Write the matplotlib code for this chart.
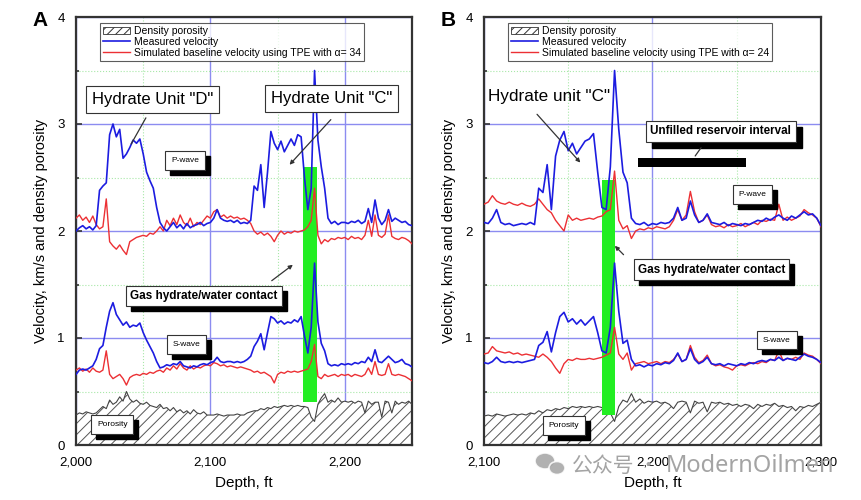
import numpy as np
import matplotlib
matplotlib.use("Agg")
import matplotlib.pyplot as plt
import matplotlib.ticker as mticker
from matplotlib.patches import Patch, Rectangle, Ellipse
from matplotlib.lines import Line2D
from matplotlib.transforms import offset_copy

plt.rcParams['font.family'] = ['Liberation Sans', 'DejaVu Sans']
plt.rcParams['hatch.linewidth'] = 0.7

# ---------------- panel A data (2.5 ft sampling) ----------------
depth_a = np.arange(2000, 2250.1, 2.5)
vp_meas_a = [2.00, 2.03, 2.05, 2.02, 2.04, 2.01, 2.05, 2.38, 2.42, 2.45,
             2.90, 3.00, 2.88, 2.95, 2.68, 2.72, 2.78, 2.85, 2.82, 2.86,
             2.72, 2.55, 2.47, 2.40, 2.22, 2.08, 2.03, 2.00, 2.04, 2.08,
             2.03, 2.06, 2.02, 2.07, 2.03, 2.05, 2.06, 2.08, 2.05, 2.07,
             2.08, 2.12, 2.20, 2.12, 2.10, 2.09, 2.10, 2.08, 2.10, 2.07,
             2.08, 2.07, 2.10, 2.42, 2.38, 2.62, 2.22, 2.55, 2.93, 2.82,
             2.76, 2.84, 2.74, 2.80, 2.86, 2.80, 2.90, 2.88, 2.50, 2.20,
             2.40, 3.50, 2.85, 2.60, 2.40, 2.12, 2.07, 2.09, 2.06, 2.08,
             2.08, 2.07, 2.09, 2.08, 2.10, 2.07, 2.09, 2.21, 2.08, 2.29,
             2.12, 2.06, 2.10, 2.20, 2.09, 2.12, 2.10, 2.08, 2.09, 2.06,
             2.05]
vp_sim_a = [2.12, 2.15, 2.10, 2.13, 2.08, 2.14, 2.06, 2.02, 2.04, 2.30,
            1.90, 1.86, 1.83, 1.87, 1.82, 1.78, 1.90, 1.92, 1.94, 1.95,
            1.96, 1.95, 1.98, 1.97, 2.00, 2.04, 2.00, 2.10, 2.05, 2.12,
            2.06, 2.15, 2.08, 2.05, 2.12, 2.04, 2.08, 2.06, 2.10, 2.14,
            2.12, 2.18, 2.20, 2.13, 2.15, 2.12, 2.14, 2.12, 2.13, 2.11,
            2.12, 2.10, 2.07, 2.00, 1.97, 1.99, 1.96, 1.98, 1.95, 1.90,
            1.96, 2.00, 1.97, 1.99, 1.98, 2.00, 1.99, 2.00, 2.01, 2.04,
            2.10, 2.40, 1.96, 1.88, 1.92, 1.90, 1.93, 1.92, 1.94, 1.93,
            1.94, 1.92, 1.95, 1.93, 1.94, 1.92, 1.96, 2.10, 1.95, 2.15,
            1.96, 1.94, 1.97, 2.15, 1.95, 1.93, 1.92, 1.94, 1.93, 1.91,
            1.88]
vs_meas_a = [0.66, 0.70, 0.71, 0.70, 0.72, 0.74, 0.80, 0.90, 0.93, 1.10,
             1.25, 1.33, 1.22, 1.17, 1.12, 1.15, 1.10, 1.12, 1.11, 1.14,
             1.05, 0.98, 0.92, 0.86, 0.78, 0.72, 0.73, 0.75, 0.74, 0.76,
             0.75, 0.78, 0.74, 0.73, 0.72, 0.74, 0.73, 0.75, 0.76, 0.75,
             0.77, 0.78, 0.82, 0.78, 0.77, 0.78, 0.78, 0.77, 0.78, 0.77,
             0.78, 0.80, 0.83, 0.92, 0.97, 1.04, 0.89, 1.05, 1.20, 1.18,
             1.14, 1.16, 1.13, 1.15, 1.14, 1.17, 1.15, 1.20, 1.02, 0.86,
             1.10, 1.70, 1.15, 0.95, 0.88, 0.76, 0.74, 0.75, 0.74, 0.76,
             0.75, 0.76, 0.75, 0.77, 0.76, 0.78, 0.77, 0.82, 0.78, 0.89,
             0.78, 0.77, 0.80, 0.83, 0.80, 0.77, 0.78, 0.80, 0.76, 0.75,
             0.73]
vs_sim_a = [0.70, 0.72, 0.69, 0.71, 0.68, 0.72, 0.69, 0.68, 0.70, 0.88,
            0.66, 0.62, 0.64, 0.66, 0.62, 0.56, 0.63, 0.65, 0.66, 0.65,
            0.67, 0.66, 0.68, 0.67, 0.69, 0.70, 0.68, 0.72, 0.70, 0.74,
            0.71, 0.76, 0.72, 0.70, 0.74, 0.71, 0.73, 0.72, 0.74, 0.75,
            0.74, 0.77, 0.76, 0.74, 0.75, 0.73, 0.74, 0.73, 0.72, 0.73,
            0.72, 0.71, 0.70, 0.68, 0.69, 0.67, 0.68, 0.66, 0.64, 0.58,
            0.66, 0.68, 0.67, 0.69, 0.68, 0.69, 0.68, 0.69, 0.70, 0.71,
            0.78, 0.94, 0.64, 0.62, 0.66, 0.64, 0.65, 0.66, 0.64, 0.66,
            0.65, 0.66, 0.64, 0.66, 0.65, 0.64, 0.66, 0.72, 0.66, 0.78,
            0.66, 0.65, 0.66, 0.76, 0.66, 0.65, 0.66, 0.65, 0.64, 0.62,
            0.60]
por_a = [0.28, 0.30, 0.29, 0.31, 0.30, 0.29, 0.30, 0.33, 0.36, 0.34,
         0.42, 0.38, 0.40, 0.45, 0.41, 0.50, 0.43, 0.40, 0.42, 0.39,
         0.38, 0.40, 0.37, 0.36, 0.35, 0.38, 0.34, 0.35, 0.32, 0.35,
         0.31, 0.33, 0.30, 0.32, 0.29, 0.33, 0.30, 0.29, 0.31, 0.28,
         0.28, 0.28, 0.29, 0.28, 0.27, 0.28, 0.28, 0.28, 0.29, 0.28,
         0.28, 0.30, 0.31, 0.32, 0.32, 0.34, 0.33, 0.35, 0.34, 0.36,
         0.35, 0.36, 0.37, 0.36, 0.37, 0.36, 0.37, 0.36, 0.36, 0.35,
         0.26, 0.22, 0.38, 0.44, 0.48, 0.40, 0.42, 0.40, 0.44, 0.40,
         0.41, 0.40, 0.41, 0.39, 0.41, 0.40, 0.30, 0.41, 0.38, 0.40,
         0.40, 0.26, 0.41, 0.40, 0.30, 0.41, 0.38, 0.40, 0.39, 0.41,
         0.38]

# ---------------- panel B data (2.5 ft sampling) ----------------
depth_b = np.arange(2100, 2300.1, 2.5)
vp_meas_b = [2.08, 2.07, 2.12, 2.20, 2.08, 2.06, 2.07, 2.05, 2.06, 2.07,
             2.06, 2.08, 2.06, 2.40, 2.36, 2.62, 2.20, 2.70, 2.85, 2.93,
             2.75, 2.82, 2.72, 2.78, 2.84, 2.86, 2.91, 2.55, 2.22, 2.20,
             2.60, 3.50, 2.95, 2.55, 2.45, 2.12, 2.07, 2.06, 2.08, 2.05,
             2.07, 2.06, 2.08, 2.07, 2.08, 2.12, 2.22, 2.10, 2.12, 2.28,
             2.15, 2.08, 2.10, 2.16, 2.08, 2.07, 2.06, 2.08, 2.05, 2.07,
             2.06, 2.05, 2.07, 2.06, 2.08, 2.10, 2.09, 2.12, 2.10, 2.13,
             2.15, 2.12, 2.10, 2.14, 2.12, 2.15, 2.18, 2.15, 2.16, 2.12,
             2.05]
vp_sim_b = [2.25, 2.27, 2.33, 2.28, 2.26, 2.25, 2.27, 2.25, 2.24, 2.26,
            2.24, 2.23, 2.25, 2.30, 2.25, 2.20, 2.17, 2.10, 2.05, 2.00,
            2.15, 2.10, 2.12, 2.10, 2.11, 2.12, 2.11, 2.13, 2.14, 2.18,
            2.20, 2.56, 2.10, 2.02, 2.05, 1.93, 2.00, 2.02, 2.01, 2.03,
            2.02, 2.04, 2.03, 2.02, 2.04, 2.10, 2.20, 2.10, 2.15, 2.37,
            2.18, 2.08, 2.10, 2.15, 2.06, 2.04, 2.05, 2.03, 2.06, 2.04,
            2.05, 2.07, 2.04, 2.06, 2.08, 2.06, 2.10, 2.09, 2.11, 2.10,
            2.25, 2.10, 2.13, 2.10, 2.12, 2.14, 2.20, 2.17, 2.15, 2.12,
            2.04]
vs_meas_b = [0.77, 0.76, 0.78, 0.82, 0.78, 0.77, 0.78, 0.77, 0.78, 0.77,
             0.78, 0.79, 0.80, 0.93, 0.96, 1.06, 0.87, 1.05, 1.20, 1.24,
             1.15, 1.18, 1.13, 1.17, 1.12, 1.16, 1.20, 1.05, 0.88, 0.86,
             1.10, 1.70, 1.25, 0.95, 0.98, 0.80, 0.74, 0.75, 0.73, 0.75,
             0.74, 0.76, 0.75, 0.77, 0.76, 0.79, 0.86, 0.78, 0.80, 0.90,
             0.80, 0.76, 0.78, 0.82, 0.76, 0.75, 0.76, 0.74, 0.76, 0.75,
             0.74, 0.76, 0.75, 0.77, 0.76, 0.78, 0.79, 0.78, 0.80, 0.79,
             0.82, 0.79, 0.81, 0.80, 0.79, 0.82, 0.85, 0.83, 0.82, 0.80,
             0.77]
vs_sim_b = [0.85, 0.86, 0.92, 0.88, 0.87, 0.86, 0.87, 0.85, 0.86, 0.84,
            0.85, 0.84, 0.83, 0.82, 0.85, 0.82, 0.78, 0.72, 0.67, 0.76,
            0.80, 0.79, 0.81, 0.80, 0.80, 0.81, 0.80, 0.81, 0.82, 0.84,
            0.86, 1.10, 0.85, 0.80, 0.86, 0.70, 0.76, 0.77, 0.78, 0.76,
            0.77, 0.78, 0.76, 0.78, 0.77, 0.80, 0.85, 0.78, 0.80, 0.93,
            0.82, 0.77, 0.79, 0.84, 0.76, 0.74, 0.75, 0.73, 0.72, 0.70,
            0.74, 0.75, 0.74, 0.76, 0.77, 0.76, 0.78, 0.77, 0.80, 0.79,
            0.88, 0.79, 0.81, 0.80, 0.82, 0.80, 0.86, 0.84, 0.83, 0.80,
            0.76]
por_b = [0.27, 0.28, 0.27, 0.29, 0.28, 0.27, 0.28, 0.29, 0.28, 0.29,
         0.28, 0.30, 0.29, 0.32, 0.30, 0.33, 0.32, 0.34, 0.33, 0.35,
         0.34, 0.36, 0.35, 0.36, 0.35, 0.36, 0.35, 0.36, 0.35, 0.34,
         0.30, 0.22, 0.36, 0.42, 0.40, 0.48, 0.40, 0.43, 0.39, 0.41,
         0.40, 0.41, 0.39, 0.40, 0.38, 0.34, 0.40, 0.41, 0.40, 0.30,
         0.41, 0.39, 0.40, 0.31, 0.40, 0.39, 0.40, 0.38, 0.39, 0.37,
         0.38, 0.36, 0.38, 0.37, 0.34, 0.38, 0.36, 0.38, 0.37, 0.39,
         0.36, 0.37, 0.35, 0.36, 0.32, 0.36, 0.35, 0.37, 0.36, 0.38,
         0.40]

# green contact bands: (depth from, depth to, velocity from, velocity to)
band_a = (2169, 2179, 0.40, 2.60)
band_b = (2170, 2178, 0.28, 2.48)
alpha_a, alpha_b = 34, 24

BLUE = '#1c1ce0'
RED = '#ec3034'
GREEN = '#22ee22'


def boxed(ax, x, y, s, size, bold=False, shadow=True, pad=0.45, dx=5, dy=-5):
    fw = 'bold' if bold else 'normal'
    style = f'square,pad={pad}'
    if shadow:
        tr = offset_copy(ax.transData, fig=ax.figure, x=dx, y=dy, units='dots')
        ax.text(x, y, s, transform=tr, fontsize=size, fontweight=fw, color='k',
                ha='center', va='center', zorder=8,
                bbox=dict(boxstyle=style, fc='k', ec='k'))
    ax.text(x, y, s, fontsize=size, fontweight=fw, color='k', ha='center',
            va='center', zorder=9,
            bbox=dict(boxstyle=style, fc='white', ec='#333333', lw=0.8))


def panel(ax, d, vpm, vps, vsm, vss, por, band, xlim, xmaj, alpha):
    ax.fill_between(d, 0, por, facecolor='white', hatch='///', edgecolor='#555555',
                    linewidth=0, zorder=2)
    ax.plot(d, por, color='#444444', lw=0.8, zorder=3)
    ax.add_patch(Rectangle((band[0], band[2]), band[1] - band[0], band[3] - band[2],
                           facecolor=GREEN, edgecolor='none', zorder=3))
    ax.plot(d, vps, color=RED, lw=1.0, zorder=4)
    ax.plot(d, vpm, color=BLUE, lw=1.2, zorder=5)
    ax.plot(d, vss, color=RED, lw=1.0, zorder=4)
    ax.plot(d, vsm, color=BLUE, lw=1.2, zorder=5)

    ax.set_xlim(*xlim)
    ax.set_ylim(0, 4)
    ax.xaxis.set_major_locator(mticker.MultipleLocator(xmaj))
    ax.xaxis.set_minor_locator(mticker.MultipleLocator(xmaj / 2))
    ax.yaxis.set_major_locator(mticker.MultipleLocator(1))
    ax.yaxis.set_minor_locator(mticker.MultipleLocator(0.5))
    ax.xaxis.set_major_formatter(mticker.FuncFormatter(lambda v, p: f'{int(v):,}'))
    ax.grid(which='major', color='#8c8cf0', lw=1.0, zorder=1)
    ax.grid(which='minor', color='#a8e8a8', lw=0.8, ls=':', zorder=1)
    ax.set_axisbelow(True)
    ax.tick_params(which='both', direction='in', labelsize=9.5, width=1.2,
                   color='#333333', pad=8)
    ax.tick_params(which='major', length=4)
    ax.tick_params(which='minor', length=2.5)
    for s in ax.spines.values():
        s.set_linewidth(1.6)
        s.set_color('#333333')
    ax.set_xlabel('Depth, ft', fontsize=11, labelpad=6)
    ax.set_ylabel('Velocity, km/s and density porosity', fontsize=10.5, labelpad=7)

    handles = [Patch(facecolor='white', edgecolor='#333333', hatch='////', lw=0.6),
               Line2D([], [], color=BLUE, lw=1.2),
               Line2D([], [], color=RED, lw=1.0)]
    labels = ['Density porosity', 'Measured velocity',
              f'Simulated baseline velocity using TPE with \u03b1= {alpha}']
    leg = ax.legend(handles, labels, loc='upper left', bbox_to_anchor=(0.07, 0.986),
                    fontsize=7.5, frameon=True, fancybox=False, edgecolor='#333333',
                    borderpad=0.3, labelspacing=0.08, handlelength=2.6,
                    handleheight=0.7, handletextpad=0.4, borderaxespad=0)
    leg.get_frame().set_linewidth(0.8)
    leg.set_zorder(10)


fig = plt.figure(figsize=(8.61, 5.0), dpi=100)
ax_a = fig.add_axes([0.0883, 0.11, 0.3902, 0.856])
ax_b = fig.add_axes([0.5621, 0.11, 0.3914, 0.856])

panel(ax_a, depth_a, vp_meas_a, vp_sim_a, vs_meas_a, vs_sim_a, por_a, band_a,
      (2000, 2250), 100, alpha_a)
panel(ax_b, depth_b, vp_meas_b, vp_sim_b, vs_meas_b, vs_sim_b, por_b, band_b,
      (2100, 2300), 100, alpha_b)

# ---- annotations, panel A ----
boxed(ax_a, 2057, 3.23, 'Hydrate Unit "D"', 12, shadow=False, pad=0.35)
ax_a.annotate('', xy=(2040, 2.79), xytext=(2053, 3.08),
              arrowprops=dict(arrowstyle='-', color='#333333', lw=0.9), zorder=9)
boxed(ax_a, 2190, 3.24, 'Hydrate Unit "C"', 12, shadow=False, pad=0.35)
ax_a.annotate('', xy=(2157.5, 2.60), xytext=(2191, 3.06),
              arrowprops=dict(arrowstyle='-|>', color='#333333', lw=0.9,
                              mutation_scale=6), zorder=9)
boxed(ax_a, 2081, 2.66, 'P-wave', 6, pad=0.7)
boxed(ax_a, 2095, 1.39, 'Gas hydrate/water contact', 8.5, bold=True, pad=0.35)
ax_a.annotate('', xy=(2163, 1.70), xytext=(2144, 1.52),
              arrowprops=dict(arrowstyle='-|>', color='#333333', lw=0.9,
                              mutation_scale=6), zorder=9)
boxed(ax_a, 2082, 0.94, 'S-wave', 6, pad=0.7)
boxed(ax_a, 2027, 0.19, 'Porosity', 6, pad=0.7)

# ---- annotations, panel B ----
ax_b.text(2138.5, 3.26, 'Hydrate unit "C"', fontsize=12.3, ha='center', va='center', zorder=9)
ax_b.annotate('', xy=(2158.3, 2.62), xytext=(2130.4, 3.11),
              arrowprops=dict(arrowstyle='-|>', color='#333333', lw=0.9,
                              mutation_scale=6), zorder=9)
boxed(ax_b, 2240.5, 2.93, 'Unfilled reservoir interval', 8.4, bold=True, pad=0.4,
      dx=6, dy=-6)
ax_b.add_patch(Rectangle((2191.7, 2.60), 63.7, 0.085, facecolor='k', edgecolor='none',
                         zorder=9))
ax_b.annotate('', xy=(2224.4, 2.68), xytext=(2229.8, 2.80),
              arrowprops=dict(arrowstyle='-', color='#333333', lw=0.9), zorder=9)
boxed(ax_b, 2259.5, 2.34, 'P-wave', 6, pad=0.7)
boxed(ax_b, 2235, 1.64, 'Gas hydrate/water contact', 8.5, bold=True, pad=0.35)
ax_b.annotate('', xy=(2176.5, 1.88), xytext=(2184, 1.76),
              arrowprops=dict(arrowstyle='-|>', color='#333333', lw=0.9,
                              mutation_scale=6), zorder=9)
boxed(ax_b, 2273.8, 0.98, 'S-wave', 6, pad=0.7)
boxed(ax_b, 2147.6, 0.18, 'Porosity', 6, pad=0.7)

fig.text(40 / 861, 1 - 20 / 500, 'A', fontsize=15, fontweight='bold', ha='center', va='center')
fig.text(448 / 861, 1 - 20 / 500, 'B', fontsize=15, fontweight='bold', ha='center', va='center')

# watermark
wm = '#a4a4a4'
fig.patches.append(Ellipse((545 / 861, 1 - 461 / 500), 20 / 861, 16 / 500,
                           transform=fig.transFigure, fc=wm, ec='white', lw=1.2, alpha=0.85))
fig.patches.append(Ellipse((557 / 861, 1 - 468 / 500), 16 / 861, 13 / 500,
                           transform=fig.transFigure, fc=wm, ec='white', lw=1.2, alpha=0.85))
fig.text(572 / 861, 1 - 466 / 500, '\u516c\u4f17\u53f7', fontsize=15, color=wm,
         ha='left', va='center', family=['Noto Sans CJK SC', 'DejaVu Sans'])
fig.text(648 / 861, 1 - 466 / 500, '\u00b7', fontsize=14, color=wm,
         ha='center', va='center', family=['Noto Sans CJK SC', 'DejaVu Sans'])
fig.text(666 / 861, 1 - 466 / 500, 'ModernOilmen', fontsize=17, color=wm,
         ha='left', va='center', family=['Noto Sans', 'DejaVu Sans'])

fig.savefig('out.png', dpi=100)
